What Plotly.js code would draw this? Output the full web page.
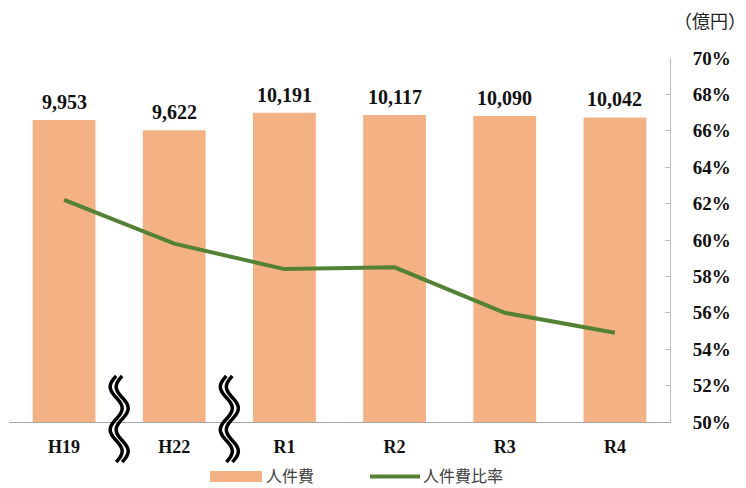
<!DOCTYPE html>
<html><head><meta charset="utf-8">
<script src="https://cdn.plot.ly/plotly-3.0.1.min.js"></script>
<style>html,body{margin:0;padding:0;background:#fff}#chart{width:746px;height:488px}</style>
</head><body><div id="chart"></div>
<script>
const categories = ['H19','H22','R1','R2','R3','R4'];
const personnelCost = [9953, 9622, 10191, 10117, 10090, 10042];
const personnelRatio = [62.2, 59.8, 58.4, 58.5, 56.0, 54.9];
const ratioTicks = [50,52,54,56,58,60,62,64,66,68,70];
const seriesNames = ['人件費', '人件費比率'];
const seriesColors = ['#F4B183', '#548235'];
const breakPositions = [0.5, 1.5];

const serif = '"Liberation Serif", "Times New Roman", serif';
const cjk = '"Noto Sans CJK JP", "Noto Sans", sans-serif';

const PW = 661, PH = 364, L = 9, T = 58;
const px2x = px => (px - L) / PW;
const py2y = py => (T + PH - py) / PH;

function wavePath(xc, dir) {
  // decorative axis-break symbol: wavy vertical line (x in data units, y in paper)
  const pxX = 1/110;
  const top = 376, bottom = 462, amp = 6;
  let d = '';
  const n = 60;
  for (let i = 0; i <= n; i++) {
    const py = top + (bottom - top) * i / n;
    const px = dir + amp * Math.sin(Math.PI * 4 * i / n + Math.PI);
    const x = xc + px * pxX;
    d += (i === 0 ? 'M' : 'L') + x.toFixed(4) + ',' + py2y(py).toFixed(4);
  }
  return d;
}

const shapes = [];
breakPositions.forEach(p => {
  shapes.push({type:'path', xref:'x', yref:'paper', path: wavePath(p, -3), line:{color:'#000', width:3.5}});
  shapes.push({type:'path', xref:'x', yref:'paper', path: wavePath(p, 3), line:{color:'#000', width:3.5}});
});
// custom legend
shapes.push({type:'rect', xref:'paper', yref:'paper', x0:px2x(210), x1:px2x(262), y0:py2y(482), y1:py2y(471),
  fillcolor: seriesColors[0], line:{width:0}});
shapes.push({type:'line', xref:'paper', yref:'paper', x0:px2x(370), x1:px2x(420), y0:py2y(476.5), y1:py2y(476.5),
  line:{color: seriesColors[1], width:4}});

const annotations = categories.map((c, i) => ({
  x: c, y: personnelCost[i], xref:'x', yref:'y', yanchor:'bottom', yshift: 5,
  text: personnelCost[i].toLocaleString('en-US'), showarrow:false,
  font:{family: serif, size: 20, color:'#111', weight: 'bold'}
}));
annotations.push({
  x: 1, xref:'paper', xanchor:'right', xshift: 78, y: 1.104, yref:'paper', yanchor:'middle',
  text:'（億円）', showarrow:false, font:{family: cjk, size: 18, color:'#222'}
});
annotations.push({x:px2x(264), xref:'paper', xanchor:'left', y:py2y(475), yref:'paper', yanchor:'middle',
  text: seriesNames[0], showarrow:false, font:{family: cjk, size:16, color:'#404040'}});
annotations.push({x:px2x(421), xref:'paper', xanchor:'left', y:py2y(475), yref:'paper', yanchor:'middle',
  text: seriesNames[1], showarrow:false, font:{family: cjk, size:16, color:'#404040'}});

const traces = [
  {type:'bar', name: seriesNames[0], x: categories, y: personnelCost, yaxis:'y',
   marker:{color: seriesColors[0]}, width:0.57, hoverinfo:'skip'},
  {type:'scatter', mode:'lines', name: seriesNames[1], x: categories, y: personnelRatio, yaxis:'y2',
   line:{color: seriesColors[1], width:4}, hoverinfo:'skip'}
];

const layout = {
  width:746, height:488,
  margin:{l:L, r:76, t:T, b:66},
  paper_bgcolor:'#fff', plot_bgcolor:'#fff',
  showlegend:false,
  xaxis:{type:'category', showline:true, linecolor:'#a6a6a6', linewidth:1,
    ticks:'', showgrid:false, zeroline:false, ticklabelstandoff: 8,
    tickfont:{family: serif, size:18, color:'#111', weight:'bold'}},
  yaxis:{range:[0,12000], visible:false, fixedrange:true},
  yaxis2:{overlaying:'y', side:'right', range:[50,70], tickvals: ratioTicks,
    ticktext: ratioTicks.map(v => v + '%'), showline:true, linecolor:'#bfbfbf', linewidth:1,
    ticks:'inside', ticklen:5, tickcolor:'#bfbfbf', showgrid:false, zeroline:false,
    ticklabelstandoff: 18,
    tickfont:{family: serif, size:19, color:'#111', weight:'bold'}},
  shapes: shapes,
  annotations: annotations,
  bargap:0.43
};

Plotly.newPlot('chart', traces, layout, {displayModeBar:false, staticPlot:true});
</script></body></html>
